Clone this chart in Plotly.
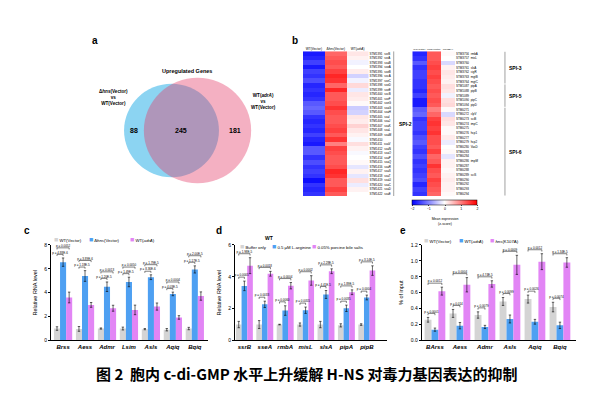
import plotly.graph_objects as go

W, H = 606, 394
def px(x): return x / W
def py(y): return 1 - y / H

FONT = "Liberation Sans, Arial, sans-serif"
GRAY, BLUE, PINK = "#d4d4d4", "#4ea0f2", "#e285f5"

# ---------------- Panel a: Venn ----------------
venn_only_hns = 88
venn_shared = 245
venn_only_adra = 181

# ---------------- Panel b: heatmaps ----------------
hm_columns = ["WT(Vector)", "Δ<i>hns</i>(Vector)", "WT(<i>adrA</i>)"]
left_genes = ["STM1391  ssrB", "STM1392  ssrA", "STM1393  ssaB", "STM1394  sseA", "STM1395  sseB",
              "STM1396  sscA", "STM1397  sseC", "STM1398  sseD", "STM1399  sseE", "STM1400  sscB",
              "STM1401  sseF", "STM1402  sseG", "STM1403  ssaG", "STM1404  ssaH", "STM1405  ssaI",
              "STM1406  ssaJ", "STM1407  ssaK", "STM1408  ssaL", "STM1409  ssaM", "STM1410",
              "STM1411  ssaV", "STM1412  ssaN", "STM1413  ssaO", "STM1414  ssaP", "STM1415  ssaQ",
              "STM1416  ssaR", "STM1417  ssaS", "STM1418  ssaT", "STM1419  ssaU", "STM1420  ssaC",
              "STM1421  ssaD", "STM1422  ssaE"]
left_wt = [-1.8, -1.7, -1.5, -1.8, -1.5, -1.6, -1.4, -1.7, -1.6, -1.7, -1.6, -1.3, -1.2, -1.3, -1.6, -1.7,
           -1.6, -1.7, -1.5, -1.7, -1.8, -1.3, -1.3, -1.6, -1.4, -1.6, -1.5, -1.6, -1.9, -1.6, -1.7, -1.6]
left_hns = [1.2, 1.3, 1.4, 1.3, 1.5, 1.7, 1.6, 1.2, 1.7, 1.3, 1.3, 1.4, 1.6, 1.4, 1.3, 1.3,
            1.4, 1.5, 1.3, 1.6, 1.0, 1.5, 1.4, 1.3, 1.3, 1.4, 1.7, 1.6, 1.3, 1.3, 1.5, 1.3]
left_adra = [0.2, 0.1, -0.1, 0.0, 0.15, -0.35, -0.1, 0.3, -0.15, 0.2, 0.15, 0.05, -0.4, -0.35, 0.2, 0.15,
             0.35, 0.2, 0.1, -0.05, 0.25, 0.1, -0.05, 0.0, 0.05, -0.2, 0.1, -0.2, 0.25, -0.15, 0.1, 0.0]

right_genes = ["STM3756  rmbA", "STM3757  misL", "STM3760", "STM3761  slsA", "STM3762  cigR",
               "STM3763  mgtB", "STM3764  mgtC", "STM1087  pipA", "STM1088  pipB", "STM1089",
               "STM1090  pipC", "STM1094  pipD", "STM0271", "STM0272  clpV", "STM0273  sciB",
               "STM0274  impC", "STM0275", "STM0276  hcp1", "STM0277", "STM0279  hcp2",
               "STM0280  VasD", "STM0283", "STM0284", "STM0286  impM", "STM0287", "STM0288",
               "STM0289  sciS", "STM0290", "STM0292", "STM0293", "STM0294"]
right_wt = [-1.7, -1.6, -1.3, -1.6, -1.5, -1.5, -1.6, -1.6, -1.7, -1.5, -1.8, -1.8, -1.3, -1.2, -1.6, -1.5,
            -1.5, -1.6, -1.4, -1.3, -1.5, -1.6, -1.4, -1.6, -1.5, -1.6, -1.5, -1.4, -1.7, -1.5, -1.6]
right_hns = [1.3, 1.3, 1.4, 1.5, 1.4, 1.5, 1.4, 1.3, 1.4, 1.3, 1.4, 1.3, 1.0, 1.2, 1.5, 1.6,
             1.5, 1.6, 1.4, 1.4, 1.3, 1.5, 1.2, 1.3, 1.6, 1.4, 1.3, 1.5, 1.4, 1.3, 1.2]
right_adra = [0.05, 0.0, -0.3, 0.1, 0.2, 0.15, 0.1, 0.25, 0.2, -0.1, 0.25, 0.3, 0.05, -0.3, 0.25, 0.2,
              0.05, 0.05, 0.15, -0.15, 0.0, 0.05, -0.2, 0.1, 0.1, 0.05, 0.1, 0.15, 0.1, 0.1, 0.05]
spi_groups = [("SPI-3", 0, 6), ("SPI-5", 7, 11), ("SPI-6", 12, 30)]

# ---------------- Panel c ----------------
c_labels = ["Brss", "Aess", "Admr", "Lsim", "Asls", "Aqiq", "Bqiq"]
c_gray = [1.0, 0.97, 1.0, 1.0, 0.95, 0.9, 1.0]
c_gray_err = [0.15, 0.2, 0.05, 0.12, 0.05, 0.1, 0.1]
c_blue = [6.56, 5.4, 4.5, 4.9, 5.3, 3.9, 5.95]
c_blue_err = [0.35, 0.45, 0.4, 0.4, 0.2, 0.15, 0.3]
c_pink = [3.6, 2.98, 2.7, 2.56, 2.84, 1.93, 3.72]
c_pink_err = [0.45, 0.2, 0.25, 0.4, 0.3, 0.15, 0.35]
c_p_gb = ["p = 4.88E-6", "p = 1.18E-5", "p = 1.20E-5", "p = 1.49E-5", "p = 8.36E-6", "p = 4.03E-5", "p = 1.17E-5"]
c_p_gp = ["p = 0.0052", "p = 3.89E-6", "p = 0.0013", "p = 0.0050", "p = 1.79E-5", "p = 0.0004", "p = 2.00E-5"]

# ---------------- Panel d ----------------
d_labels = ["ssrB", "sseA", "rmbA", "misL", "slsA", "pipA", "pipB"]
d_gray = [1.0, 1.0, 1.0, 1.0, 1.0, 0.95, 1.0]
d_gray_err = [0.2, 0.25, 0.02, 0.1, 0.2, 0.1, 0.05]
d_blue = [3.43, 2.27, 1.88, 1.9, 2.89, 2.02, 2.7]
d_blue_err = [0.3, 0.2, 0.3, 0.2, 0.25, 0.2, 0.15]
d_pink = [4.7, 4.19, 3.44, 3.77, 4.35, 3.03, 4.39]
d_pink_err = [0.5, 0.15, 0.2, 0.3, 0.15, 0.15, 0.3]
d_p_gb = ["p = 0.0005", "p = 0.0033", "p = 0.0060", "p = 0.0055", "p = 4.41E-5", "p = 0.0035", "p = 0.0004"]
d_p_gp = ["p = 1.98E-5", "p = 0.0018", "p = 0.0004", "p = 0.0002", "p = 2.28E-5", "p = 1.89E-5", "p = 3.14E-5"]

# ---------------- Panel e ----------------
e_labels = ["BArss", "Aess", "Admr", "Asls", "Aqiq", "Bqiq"]
e_gray = [0.26, 0.34, 0.32, 0.49, 0.52, 0.42]
e_gray_err = [0.03, 0.05, 0.04, 0.05, 0.05, 0.06]
e_blue = [0.136, 0.186, 0.17, 0.27, 0.235, 0.19]
e_blue_err = [0.02, 0.04, 0.02, 0.05, 0.03, 0.04]
e_pink = [0.62, 0.70, 0.71, 0.95, 0.99, 0.98]
e_pink_err = [0.05, 0.09, 0.04, 0.12, 0.1, 0.06]
e_p_gb = ["p = 0.0001", "p = 0.014", "p = 0.0079", "p = 0.0099", "p = 0.0026", "p = 0.0074"]
e_p_gp = ["p = 0.0012", "p = 0.0004", "p = 4.74E-5", "p = 0.0009", "p = 0.0012", "p = 1.34E-5"]

BARGAP = 0.17
BW = (1 - BARGAP) / 3

fig = go.Figure()

def add_bar_panel(xa, ya, names, gray, ge, blue, be, pink, pe, pgb, pgp, pad, step):
    n = len(gray)
    xs = list(range(n))
    for vals, errs, col, nm in ((gray, ge, GRAY, names[0]), (blue, be, BLUE, names[1]), (pink, pe, PINK, names[2])):
        fig.add_trace(go.Bar(x=xs, y=vals, name=nm, marker=dict(color=col, line=dict(width=0)),
                             error_y=dict(type="data", array=errs, color="black", thickness=0.6, width=1.2),
                             xaxis=xa, yaxis=ya, showlegend=False))
    bx, by, tx, ty, tt = [], [], [], [], []
    leg_h = step * 0.25
    for i in range(n):
        tg, tb, tp = gray[i] + ge[i], blue[i] + be[i], pink[i] + pe[i]
        gb = max(tg, tb) + pad
        gp = max(max(tg, tb, tp) + pad, gb + step)
        for lv, x0, x1, t in ((gb, i - BW, i, pgb[i]), (gp, i - BW, i + BW, pgp[i])):
            bx += [x0, x0, x1, x1, None]
            by += [lv - leg_h, lv, lv, lv - leg_h, None]
            tx.append((x0 + x1) / 2)
            ty.append(lv)
            tt.append(t)
    fig.add_trace(go.Scatter(x=bx, y=by, mode="lines", line=dict(color="black", width=0.5),
                             xaxis=xa, yaxis=ya, showlegend=False, hoverinfo="skip", cliponaxis=False))
    fig.add_trace(go.Scatter(x=tx, y=ty, mode="text", text=tt, textposition="top center",
                             textfont=dict(size=3, family=FONT, color="black"),
                             xaxis=xa, yaxis=ya, showlegend=False, hoverinfo="skip", cliponaxis=False))

add_bar_panel("x", "y", ["WT(Vector)", "Δhns(Vector)", "WT(adrA)"], c_gray, c_gray_err, c_blue, c_blue_err,
              c_pink, c_pink_err, c_p_gb, c_p_gp, 0.3, 0.55)
add_bar_panel("x2", "y2", ["Buffer only", "0.5 μM L-arginine", "0.05% porcine bile salts"], d_gray, d_gray_err,
              d_blue, d_blue_err, d_pink, d_pink_err, d_p_gb, d_p_gp, 0.25, 0.45)
add_bar_panel("x3", "y3", ["WT(Vector)", "WT(adrA)", "hns(K107A)"], e_gray, e_gray_err, e_blue, e_blue_err,
              e_pink, e_pink_err, e_p_gb, e_p_gp, 0.05, 0.09)

# heatmaps
fig.add_trace(go.Heatmap(z=[[a, b, c] for a, b, c in zip(left_wt, left_hns, left_adra)],
                         x=[0, 1, 2], y=list(range(len(left_genes))), coloraxis="coloraxis",
                         xaxis="x4", yaxis="y4", hoverinfo="skip"))
fig.add_trace(go.Heatmap(z=[[a, b, c] for a, b, c in zip(right_wt, right_hns, right_adra)],
                         x=[0, 1, 2], y=list(range(len(right_genes))), coloraxis="coloraxis",
                         xaxis="x5", yaxis="y5", hoverinfo="skip"))

axis_common = dict(showgrid=False, zeroline=False, showline=True, linecolor="black", linewidth=0.8)
ytick = dict(ticks="outside", ticklen=2, tickwidth=0.6, tickcolor="black",
             tickfont=dict(size=5, family=FONT, color="black"))
xcat = dict(ticks="", tickfont=dict(size=6, family=FONT, color="black", weight="bold", style="italic"))
yt = dict(font=dict(size=5.5, family=FONT, color="black"), standoff=6)

ydom = [py(342.7), py(245.7)]
def hm_x(size):
    return dict(range=[-0.5, 2.5], side="top", tickvals=[0, 1, 2], ticktext=hm_columns, ticks="",
                tickangle=0, showgrid=False, zeroline=False,
                tickfont=dict(size=size, family=FONT, color="black"))
layout = dict(
    width=W, height=H, margin=dict(l=0, r=0, t=0, b=0),
    paper_bgcolor="white", plot_bgcolor="white",
    barmode="group", bargap=BARGAP, bargroupgap=0,
    xaxis=dict(domain=[px(51), px(208)], range=[-0.55, 6.6], anchor="y",
               tickvals=list(range(7)), ticktext=c_labels, **axis_common, **xcat),
    yaxis=dict(domain=ydom, range=[0, 8], dtick=2, anchor="x",
               title=dict(text="Relative RNA level", **yt), **axis_common, **ytick),
    xaxis2=dict(domain=[px(235), px(387)], range=[-0.46, 6.99], anchor="y2",
                tickvals=list(range(7)), ticktext=d_labels, **axis_common, **xcat),
    yaxis2=dict(domain=ydom, range=[0, 6], dtick=2, anchor="x2",
                title=dict(text="Relative RNA level", **yt), **axis_common, **ytick),
    xaxis3=dict(domain=[px(421.7), px(575.7)], range=[-0.53, 5.63], anchor="y3",
                tickvals=list(range(6)), ticktext=e_labels, **axis_common, **xcat),
    yaxis3=dict(domain=ydom, range=[0, 1.2], dtick=0.2, tickformat=".1f", anchor="x3",
                title=dict(text="% of input", **yt), **axis_common, **ytick),
    xaxis4=dict(domain=[px(303), px(368.5)], anchor="y4", **hm_x(3.2)),
    yaxis4=dict(domain=[py(196), py(49)], range=[len(left_genes) - 0.5, -0.5], anchor="x4", side="right",
                tickvals=list(range(len(left_genes))), ticktext=left_genes, ticks="", showgrid=False,
                zeroline=False, tickfont=dict(size=3, family=FONT, color="black")),
    xaxis5=dict(domain=[px(412.3), px(455)], anchor="y5", **hm_x(2.4)),
    yaxis5=dict(domain=[py(196), py(49)], range=[len(right_genes) - 0.5, -0.5], anchor="x5", side="right",
                tickvals=list(range(len(right_genes))), ticktext=right_genes, ticks="", showgrid=False,
                zeroline=False, tickfont=dict(size=3, family=FONT, color="black")),
    xaxis6=dict(domain=[px(100), px(290)], range=[100, 290], visible=False, anchor="y6"),
    yaxis6=dict(domain=[py(200), py(55)], range=[200, 55], visible=False, anchor="x6"),
    coloraxis=dict(colorscale=[[0, "#0000ff"], [0.5, "#ffffff"], [1, "#ff0000"]], cmin=-2, cmax=2,
                   colorbar=dict(orientation="h", x=px(445), xanchor="center", y=py(200), yanchor="top",
                                 len=65, lenmode="pixels", thickness=5, thicknessmode="pixels",
                                 outlinewidth=0.5, outlinecolor="black", xpad=0, ypad=0,
                                 tickvals=[-2, -1, 0, 1, 2], ticks="outside", ticklen=1.5, tickwidth=0.5,
                                 tickfont=dict(size=3.5, family=FONT, color="black"),
                                 title=dict(text="Mean expression<br>(z-score)", side="bottom",
                                            font=dict(size=3.5, family=FONT, color="black")))),
)
fig.update_layout(**layout)

# Venn circles (area proportional to set size)
k = 2.6
r_hns = k * (venn_only_hns + venn_shared) ** 0.5
r_adra = k * (venn_only_adra + venn_shared) ** 0.5
cx_hns, cy = 171.5, 129.5
cx_adra = cx_hns + 26
fig.add_shape(type="circle", xref="x6", yref="y6", x0=cx_hns - r_hns, x1=cx_hns + r_hns,
              y0=cy - r_hns, y1=cy + r_hns, fillcolor="rgb(140,212,242)", line=dict(width=0))
fig.add_shape(type="circle", xref="x6", yref="y6", x0=cx_adra - r_adra, x1=cx_adra + r_adra,
              y0=cy - r_adra, y1=cy + r_adra, fillcolor="rgb(227,57,102)", opacity=0.4, line=dict(width=0))
left_edge_a = cx_adra - r_adra
right_edge_h = cx_hns + r_hns
ann = []
def A(text, x, y, size, bold=False, xref="paper", yref="paper", xanchor="center", yanchor="middle", family=FONT):
    ann.append(dict(text=("<b>%s</b>" % text) if bold else text, x=x, y=y, xref=xref, yref=yref,
                    xanchor=xanchor, yanchor=yanchor, showarrow=False,
                    font=dict(size=size, family=family, color="black")))
A(str(venn_only_hns), (cx_hns - r_hns + left_edge_a) / 2, cy, 7, True, "x6", "y6")
A(str(venn_shared), (left_edge_a + right_edge_h) / 2, cy, 7, True, "x6", "y6")
A(str(venn_only_adra), (right_edge_h + cx_adra + r_adra) / 2, cy, 7, True, "x6", "y6")
A("Upregulated Genes", px(187), py(69), 5.5, True)
A("Δ<i>hns</i>(Vector)<br>vs<br>WT(Vector)", px(113), py(96), 4.6, True)
A("WT(<i>adrA</i>)<br>vs<br>WT(Vector)", px(263), py(100), 4.6, True)

# panel letters
for t, x, y in (("a", 95, 38), ("b", 295, 38), ("c", 27, 231), ("d", 219, 231.5), ("e", 403, 231)):
    A(t, px(x), py(y), 10, True)

# SPI brackets
fig.add_shape(type="line", xref="x4 domain", yref="y4", x0=1.385, x1=1.385, y0=-0.5, y1=len(left_genes) - 0.5,
              line=dict(color="#888888", width=0.8))
A("SPI-2", 1.43, (len(left_genes) - 1) / 2, 5, True, "x4 domain", "y4", "left")
for name, r0, r1 in spi_groups:
    fig.add_shape(type="line", xref="x5 domain", yref="y5", x0=2.17, x1=2.17, y0=r0 - 0.4, y1=r1 + 0.4,
                  line=dict(color="#888888", width=0.8))
    A(name, 2.22, (r0 + r1) / 2, 5, True, "x5 domain", "y5", "left")

# legends (text with coloured squares)
def leg(items, y):
    for col, txt, x in items:
        A("<span style='color:%s;font-size:7px'>■</span> %s" % (col, txt), px(x), py(y), 4.3, False,
          xanchor="left")
leg([(GRAY, "WT(Vector)", 52), (BLUE, "Δ<i>hns</i>(Vector)", 87), (PINK, "WT(<i>adrA</i>)", 128)], 240)
leg([(GRAY, "Buffer only", 238), (BLUE, "0.5 μM L-arginine", 269.5), (PINK, "0.05% porcine bile salts", 310)], 247.7)
leg([(GRAY, "WT(Vector)", 422), (BLUE, "WT(<i>adrA</i>)", 457), (PINK, "<i>hns</i>(K107A)", 488)], 241)
A("WT", px(269), py(239), 5, True)

# caption
A("图 2  胞内 c-di-GMP 水平上升缓解 H-NS 对毒力基因表达的抑制", px(306), py(376), 15, True,
  family="Noto Sans CJK SC, sans-serif")

fig.update_layout(annotations=ann)
fig.write_html("out.html", config={"displayModeBar": False},
               post_script="document.body.style.margin='0';")
